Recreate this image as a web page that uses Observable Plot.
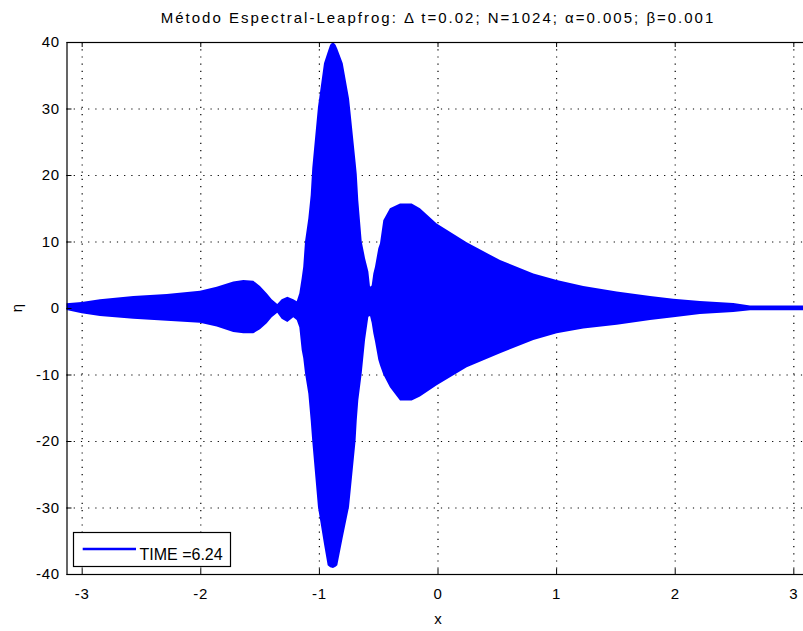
<!DOCTYPE html>
<html>
<head>
<meta charset="utf-8">
<script src="https://cdn.jsdelivr.net/npm/d3@7"></script>
<script src="https://cdn.jsdelivr.net/npm/@observablehq/plot@0.6"></script>
<style>
  html, body { margin: 0; padding: 0; background: #fff; overflow: hidden; }
  #wrap { position: relative; width: 803px; height: 631px; overflow: hidden; }
  #wrap svg { display: block; }
</style>
</head>
<body>
<div id="wrap"></div>
<script>
// Envelope of the (densely oscillating) solution eta(x) at TIME = 6.24
const xs = [-3.128, -3.000, -2.846, -2.565, -2.283, -2.003, -1.862, -1.722, -1.637, -1.553,
  -1.497, -1.440, -1.398, -1.351, -1.314, -1.266, -1.216, -1.187, -1.165, -1.145,
  -1.132, -1.117, -1.089, -1.069, -1.056, -1.008, -0.957, -0.926, -0.905, -0.881, -0.860, -0.845,
  -0.799, -0.746, -0.738, -0.691, -0.681, -0.668, -0.639, -0.611, -0.583, -0.569,
  -0.555, -0.541, -0.527, -0.499, -0.485, -0.457, -0.401, -0.316, -0.218, -0.148,
  -0.007, 0.246, 0.527, 0.808, 1.005, 1.229, 1.511, 1.792, 1.988, 2.213,
  2.494, 2.635, 3.128];
const upper = [0.7, 0.9, 1.3, 1.8, 2.1, 2.6, 3.2, 4.0, 4.2, 4.1,
  3.3, 2.2, 1.3, 0.6, 1.3, 1.7, 1.3, 1.0, 2.2, 4.5,
  6.2, 10.0, 13.5, 17.0, 21.0, 30.2, 36.8, 38.5, 39.6, 40.0, 39.6, 39.0,
  36.8, 31.5, 30.2, 22.0, 20.2, 16.2, 10.0, 7.5, 5.5, 3.2,
  3.4, 5.2, 6.2, 9.0, 9.7, 13.2, 15.0, 15.7, 15.7, 15.0,
  12.7, 9.9, 7.2, 5.2, 4.2, 3.3, 2.5, 1.8, 1.4, 1.07,
  0.77, 0.37, 0.37];
const lower = [-0.3, -0.8, -1.2, -1.6, -1.9, -2.2, -2.8, -3.6, -3.8, -3.8,
  -3.2, -2.3, -1.4, -0.7, -1.6, -2.1, -1.4, -1.8, -2.9, -6.3,
  -7.5, -9.8, -12.9, -16.9, -20.0, -29.9, -35.5, -38.7, -39.0, -39.1, -38.9, -38.7,
  -34.5, -29.9, -28.5, -20.0, -16.9, -13.9, -9.8, -4.8, -1.3, -1.2,
  -2.2, -3.8, -5.0, -7.8, -8.6, -10.0, -11.9, -13.9, -13.9, -13.3,
  -11.6, -8.9, -6.8, -4.8, -3.8, -3.1, -2.5, -1.8, -1.4, -0.9,
  -0.6, -0.33, -0.33];

const xTicks = [-3, -2, -1, 0, 1, 2, 3];
const yTicks = [-40, -30, -20, -10, 0, 10, 20, 30, 40];
const xDomain = [-3.128, 3.128];
const yDomain = [-40, 40];

const titleText = "Método Espectral-Leapfrog: \u0394 t=0.02; N=1024; \u03b1=0.005; \u03b2=0.001";
const xLabel = "x";
const yLabel = "\u03b7";
const legendLabel = "TIME =6.24";

const rows = xs.map((x, i) => ({x, hi: upper[i], lo: lower[i]}));

const W = 803, H = 631;
const mL = 66.5, mR = -5.5, mT = 42, mB = 57;
const frameW = W - mL - mR, frameH = H - mT - mB;
const tick = 5;
const font = "'Liberation Sans', Arial, Helvetica, sans-serif";
const fmt = d => String(d);

const chart = Plot.plot({
  width: W,
  height: H,
  marginLeft: mL,
  marginRight: mR,
  marginTop: mT,
  marginBottom: mB,
  style: {fontFamily: font, fontSize: "15px", color: "#000", background: "#fff"},
  x: {domain: xDomain, ticks: xTicks},
  y: {domain: yDomain, ticks: yTicks},
  marks: [
    // dotted grid
    Plot.ruleX(xTicks, {stroke: "#000", strokeWidth: 1.2, strokeDasharray: "1.2,6"}),
    Plot.ruleY(yTicks.filter(d => d !== -40 && d !== 40), {stroke: "#000", strokeWidth: 1.2, strokeDasharray: "1.2,6"}),
    // the solution envelope
    Plot.areaY(rows, {x: "x", y1: "lo", y2: "hi", fill: "#0000ff", curve: "linear"}),
    // axes labels (ticks drawn inward separately)
    Plot.axisX(xTicks, {tickSize: 0, tickPadding: 14, tickFormat: fmt, label: null, fontSize: 15}),
    Plot.axisY(yTicks, {tickSize: 0, tickPadding: 7, tickFormat: fmt, label: null, fontSize: 15}),
    // inward tick marks
    Plot.ruleX(xTicks, {stroke: "#000", insetTop: frameH - tick}),
    Plot.ruleX(xTicks, {stroke: "#000", insetBottom: frameH - tick}),
    Plot.ruleY(yTicks, {stroke: "#000", insetRight: frameW - tick}),
    Plot.frame({stroke: "#000", strokeWidth: 1.2}),
    // title and x-axis title
    Plot.text([titleText], {frameAnchor: "top", dy: -24, lineAnchor: "middle", fontSize: 15}),
    Plot.text([xLabel], {frameAnchor: "bottom", dy: 45, lineAnchor: "middle", fontSize: 15})
  ]
});

document.getElementById("wrap").appendChild(chart);

const svg = d3.select(chart);
// letter spacing to match MATLAB's wide glyph spacing
svg.selectAll("g[aria-label='x-axis tick label'] text, g[aria-label='y-axis tick label'] text")
  .attr("letter-spacing", "0.8px");
svg.selectAll("g[aria-label='text'] text").filter(function() { return d3.select(this).text() === titleText; })
  .attr("letter-spacing", "2px");

// rotated y-axis title
svg.append("text")
  .attr("transform", `translate(22,${mT + frameH / 2}) rotate(-90)`)
  .attr("text-anchor", "middle")
  .attr("font-family", font).attr("font-size", 15).attr("fill", "#000")
  .text(yLabel);

// legend box (lower-left, MATLAB style)
const lg = svg.append("g").attr("font-family", font).attr("font-size", 16).attr("text-anchor", "start");
lg.append("rect").attr("x", 73.5).attr("y", 532.5).attr("width", 157).attr("height", 34)
  .attr("fill", "#fff").attr("stroke", "#000").attr("stroke-width", 1.2);
lg.append("line").attr("x1", 82.7).attr("x2", 136).attr("y1", 549).attr("y2", 549)
  .attr("stroke", "#0000ff").attr("stroke-width", 2.7);
lg.append("text").attr("x", 139.5).attr("y", 560).attr("fill", "#000").text(legendLabel);
</script>
</body>
</html>
